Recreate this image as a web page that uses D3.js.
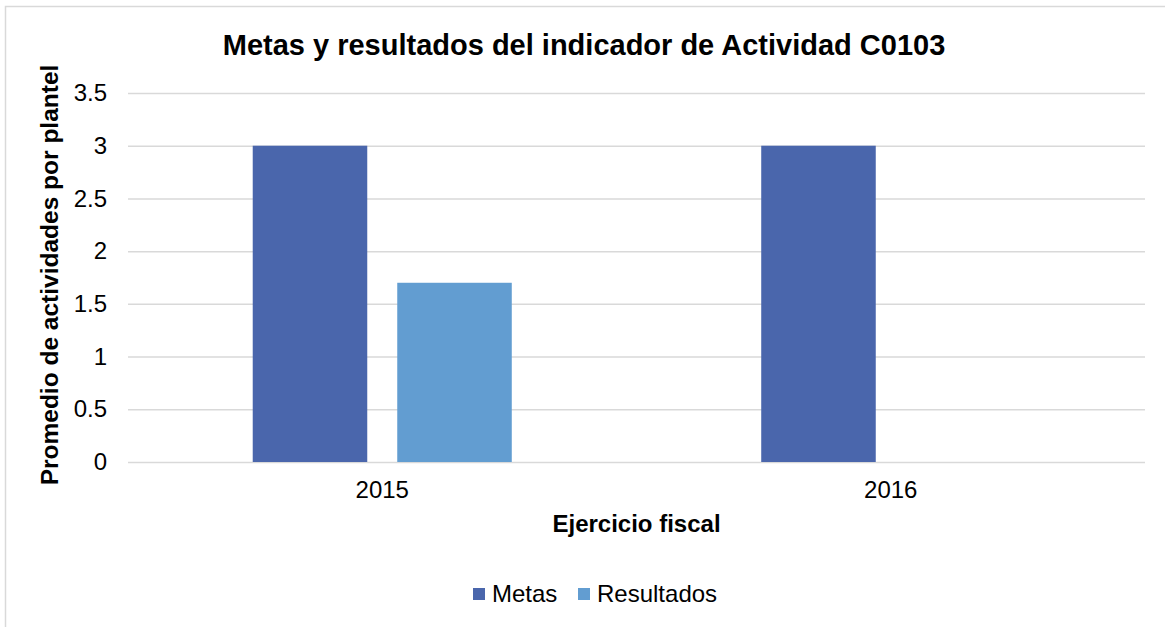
<!DOCTYPE html>
<html>
<head>
<meta charset="utf-8">
<script src="https://cdn.jsdelivr.net/npm/d3@7"></script>
<style>
    body { margin: 0; background: #fff; }
    svg { display: block; font-family: Arial, "Liberation Sans", sans-serif; }
</style>
</head>
<body>
<svg id="chart" width="1165" height="627"></svg>
<script>
"use strict";

// Data
const categories = ["2015", "2016"];
const seriesNames = ["Metas", "Resultados"];
const metas = [3, 3];
const resultados = [1.7, null];
const yTicks = [0, 0.5, 1, 1.5, 2, 2.5, 3, 3.5];

const COLORS = { Metas: "#4A66AC", Resultados: "#629DD1" };

const svg = d3.select("#chart");
const plot = { left: 128, right: 1145, top: 93, bottom: 462 };

// chart frame (only left/top edges are visible)
svg.append("rect")
    .attr("x", 5.5).attr("y", 6.5)
    .attr("width", 1300).attr("height", 800)
    .attr("fill", "none")
    .attr("stroke", "#D9D9D9")
    .attr("stroke-width", 1.5);

const x0 = d3.scaleBand().domain(categories).range([plot.left, plot.right]);
const x1 = d3.scaleBand().domain(seriesNames)
    .range([0, x0.bandwidth()])
    .paddingInner(0.2076)
    .paddingOuter(0.863);
const y = d3.scaleLinear().domain([0, 3.5]).range([plot.bottom, plot.top]);

// gridlines
const yAxis = d3.axisLeft(y).tickValues(yTicks).tickSize(-(plot.right - plot.left))
    .tickPadding(21).tickFormat(d3.format("~g"));
const gy = svg.append("g").attr("transform", `translate(${plot.left},0)`).call(yAxis);
gy.select(".domain").remove();
gy.selectAll(".tick line").attr("stroke", "#D9D9D9").attr("stroke-width", 1.5);
gy.selectAll(".tick text")
    .attr("font-size", 24).attr("fill", "#000")
    .attr("font-family", "Arial, 'Liberation Sans', sans-serif");

// bars
const rows = categories.map((c, i) => ({ cat: c, values: { Metas: metas[i], Resultados: resultados[i] } }));
rows.forEach((r) => {
    seriesNames.forEach((s) => {
        const v = r.values[s];
        if (v == null) return;
        svg.append("rect")
            .attr("x", x0(r.cat) + x1(s))
            .attr("y", y(v))
            .attr("width", x1.bandwidth())
            .attr("height", y(0) - y(v))
            .attr("fill", COLORS[s]);
    });
});

// x axis labels
const xAxis = d3.axisBottom(x0).tickSize(0).tickPadding(19);
const gx = svg.append("g").attr("transform", `translate(0,${plot.bottom})`).call(xAxis);
gx.select(".domain").remove();
gx.selectAll(".tick text")
    .attr("font-size", 24).attr("fill", "#000")
    .attr("font-family", "Arial, 'Liberation Sans', sans-serif");

// title
svg.append("text")
    .attr("x", 584).attr("y", 55)
    .attr("text-anchor", "middle")
    .attr("font-size", 29).attr("font-weight", "bold")
    .text("Metas y resultados del indicador de Actividad C0103");

// axis titles
svg.append("text")
    .attr("x", (plot.left + plot.right) / 2).attr("y", 532)
    .attr("text-anchor", "middle")
    .attr("font-size", 24).attr("font-weight", "bold")
    .text("Ejercicio fiscal");

svg.append("text")
    .attr("transform", "translate(58,275) rotate(-90)")
    .attr("text-anchor", "middle")
    .attr("font-size", 24.5).attr("font-weight", "bold")
    .text("Promedio de actividades por plantel");

// legend
const legendX = [473, 578];
seriesNames.forEach((s, i) => {
    const g = svg.append("g").attr("transform", `translate(${legendX[i]},0)`);
    g.append("rect").attr("x", 0).attr("y", 588).attr("width", 12).attr("height", 12).attr("fill", COLORS[s]);
    g.append("text").attr("x", 19).attr("y", 602).attr("font-size", 24).text(s);
});
</script>
</body>
</html>
